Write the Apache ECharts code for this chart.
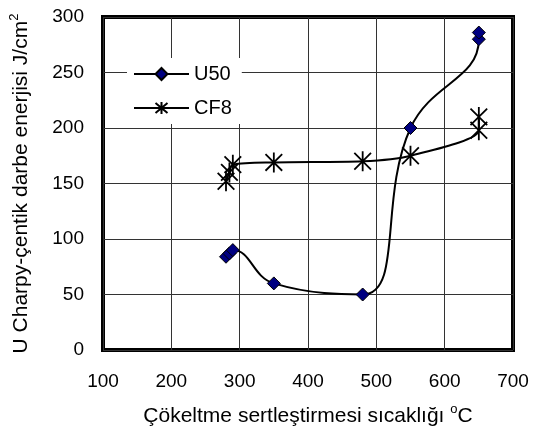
<!DOCTYPE html>
<html>
<head>
<meta charset="utf-8">
<script src="https://cdn.jsdelivr.net/npm/echarts@6/dist/echarts.min.js"></script>
<style>
  html, body { margin: 0; padding: 0; background: #fff; }
  #chart { width: 545px; height: 436px; }
</style>
</head>
<body>
<div id="chart"></div>
<script>
// Data
const u50Temp = [280, 285, 290, 350, 480, 550, 650, 650];
const u50Energy = [84, 87, 90, 60, 50, 200, 280, 286];
const cf8Temp = [280, 285, 290, 350, 480, 550, 650, 650];
const cf8Energy = [152, 160, 167, 169, 170, 175, 198, 210];

const xTicks = [100, 200, 300, 400, 500, 600, 700];
const yTicks = [0, 50, 100, 150, 200, 250, 300];

const starPath = 'path://M0,0L10,10M10,0L0,10M5,-1L5,11';
const font = 'Liberation Sans, Arial, sans-serif';

const chart = echarts.init(document.getElementById('chart'));

const zip = (xs, ys) => xs.map((x, i) => [x, ys[i]]);

// rich styles for axis names with a superscript
const nameRich = {
  t: { fontFamily: font, fontSize: 21, color: '#000', verticalAlign: 'bottom' },
  sup: { fontFamily: font, fontSize: 13, color: '#000', verticalAlign: 'bottom', padding: [0, 0, 11, 0] }
};

const option = {
  animation: false,
  textStyle: { fontFamily: font },
  grid: {
    left: 102, right: 32, top: 17, bottom: 86,
    show: true,
    borderColor: '#000',
    borderWidth: 4,
    backgroundColor: 'transparent'
  },
  legend: {
    orient: 'vertical',
    left: 127,
    top: 58,
    padding: [6, 10, 6, 6],
    itemGap: 14,
    itemWidth: 55,
    itemHeight: 15,
    backgroundColor: '#fff',
    textStyle: { fontFamily: font, fontSize: 20, color: '#000' },
    data: ['U50', 'CF8']
  },
  xAxis: {
    type: 'value',
    min: xTicks[0],
    max: xTicks[xTicks.length - 1],
    interval: 100,
    axisLine: { show: false },
    axisTick: { show: false },
    axisLabel: { fontFamily: font, fontSize: 19, color: '#000', margin: 22 },
    splitLine: { show: true, lineStyle: { color: '#333', width: 1 } },
    name: '{t|Çökeltme sertleştirmesi sıcaklığı }{sup|o}{t|C}',
    nameLocation: 'middle',
    nameGap: 53,
    nameTextStyle: { fontFamily: font, fontSize: 21, color: '#000', rich: nameRich }
  },
  yAxis: {
    type: 'value',
    min: yTicks[0],
    max: yTicks[yTicks.length - 1],
    interval: 50,
    axisLine: { show: false },
    axisTick: { show: false },
    axisLabel: { fontFamily: font, fontSize: 19, color: '#000', margin: 19 },
    splitLine: { show: true, lineStyle: { color: '#333', width: 1 } },
    name: '{t|U Charpy-çentik darbe enerjisi J/cm}{sup|2}',
    nameLocation: 'middle',
    nameRotate: 90,
    nameGap: 71,
    nameTextStyle: { fontFamily: font, fontSize: 21, color: '#000', rich: nameRich }
  },
  series: [
    {
      name: 'U50',
      type: 'line',
      smooth: 0.45,
      data: zip(u50Temp, u50Energy),
      symbol: 'diamond',
      symbolSize: 13,
      lineStyle: { color: '#000', width: 2 },
      itemStyle: { color: '#000080', borderColor: '#000', borderWidth: 1 },
      z: 3
    },
    {
      name: 'CF8',
      type: 'line',
      smooth: 0.3,
      data: zip(cf8Temp, cf8Energy),
      symbol: starPath,
      symbolSize: 20,
      symbolKeepAspect: true,
      lineStyle: { color: '#000', width: 2 },
      itemStyle: { color: 'none', borderColor: '#000', borderWidth: 1.8 },
      z: 2
    }
  ]
};

chart.setOption(option);
</script>
</body>
</html>
